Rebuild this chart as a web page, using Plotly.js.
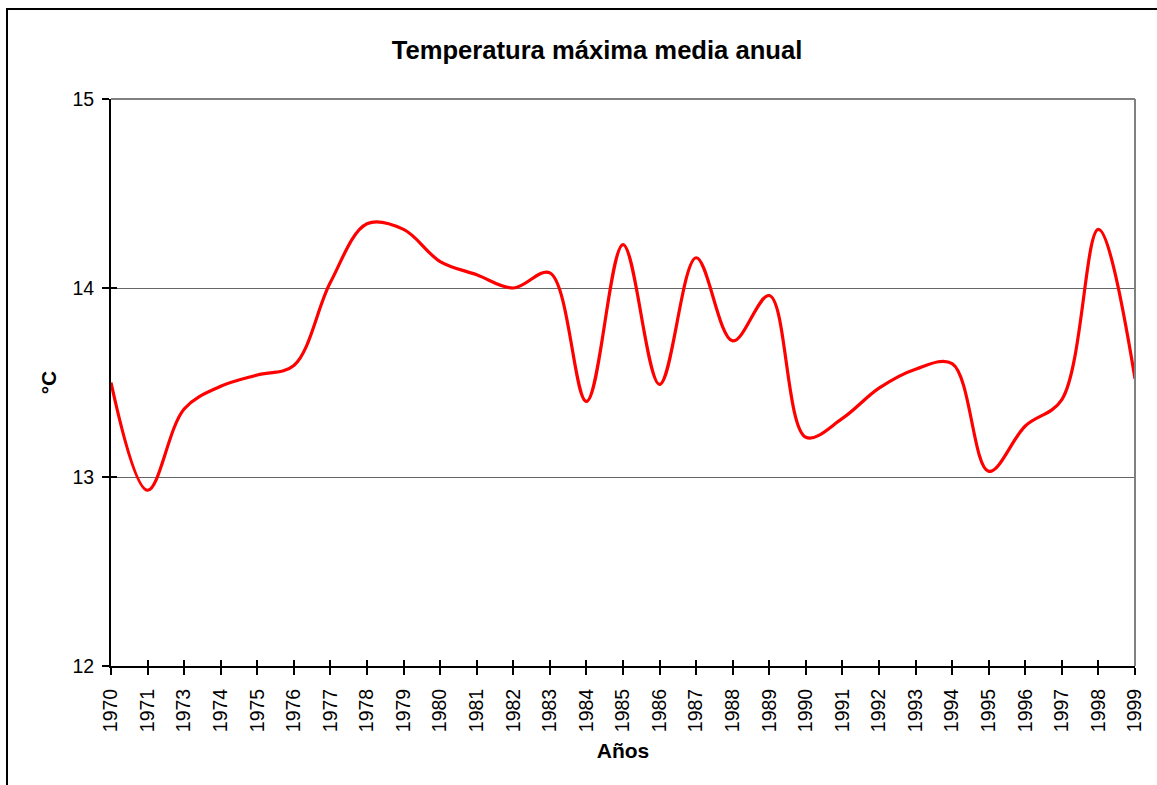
<!DOCTYPE html>
<html>
<head>
<meta charset="utf-8">
<script src="https://cdn.plot.ly/plotly-3.0.1.min.js"></script>
<style>
  html, body { margin: 0; padding: 0; overflow: hidden; background: #fff; }
  #frame { position: absolute; left: 6px; top: 8px; width: 1300px; height: 1000px; border: 2px solid #000; box-sizing: border-box; }
  #chart { position: absolute; left: 0; top: 0; width: 1157px; height: 785px; }
</style>
</head>
<body>
<div id="frame"></div>
<div id="chart"></div>
<script>
const years = ['1970','1971','1973','1974','1975','1976','1977','1978','1979','1980',
               '1981','1982','1983','1984','1985','1986','1987','1988','1989','1990',
               '1991','1992','1993','1994','1995','1996','1997','1998','1999'];
const tempMax = [13.50, 12.93, 13.36, 13.48, 13.54, 13.59, 14.03, 14.34, 14.31, 14.14,
                 14.07, 14.00, 14.08, 13.40, 14.23, 13.49, 14.16, 13.72, 13.96, 13.21,
                 13.31, 13.47, 13.57, 13.60, 13.03, 13.27, 13.41, 14.31, 13.52];
const yTicks = [12, 13, 14, 15];

const FONT = 'Liberation Sans, Arial, sans-serif';

const traces = [
  {
    x: years, y: tempMax, type: 'scatter', mode: 'lines',
    line: { color: '#FF0000', width: 3.2, shape: 'spline', smoothing: 1 },
    hoverinfo: 'x+y', showlegend: false
  },
  {
    x: years, y: tempMax, type: 'scatter', mode: 'lines',
    xaxis: 'x2', yaxis: 'y2', opacity: 0,
    line: { color: 'rgba(0,0,0,0)', width: 0 },
    hoverinfo: 'skip', showlegend: false
  }
];

const layout = {
  width: 1157, height: 785,
  paper_bgcolor: 'rgba(0,0,0,0)', plot_bgcolor: '#fff',
  margin: { l: 111, r: 22, t: 99, b: 119 },
  font: { family: FONT, color: '#000', size: 19 },
  title: {
    text: '<b>Temperatura máxima media anual</b>',
    font: { family: FONT, size: 25.6, color: '#000' },
    x: 597 / 1157, xref: 'container', xanchor: 'center',
    y: 1 - 50 / 785, yref: 'container', yanchor: 'middle'
  },
  xaxis: {
    type: 'category', categoryorder: 'array', categoryarray: years,
    range: [0, 28], tickvals: years, ticktext: years, tickangle: -90,
    ticks: 'outside', ticklen: 7, tickwidth: 2, tickcolor: '#000',
    showline: true, linecolor: '#000', linewidth: 2,
    showgrid: false, zeroline: false,
    tickfont: { family: FONT, size: 19.5, color: '#000' },
    ticklabelstandoff: 6,
    title: { text: '<b>Años</b>', font: { family: FONT, size: 21, color: '#000' }, standoff: 12 },
    fixedrange: true
  },
  yaxis: {
    range: [12, 15], tickvals: yTicks,
    ticks: 'outside', ticklen: 7, tickwidth: 2, tickcolor: '#000',
    showline: true, linecolor: '#000', linewidth: 2,
    showgrid: true, gridcolor: '#666666', gridwidth: 1,
    zeroline: false,
    tickfont: { family: FONT, size: 19.5, color: '#000' },
    ticklabelstandoff: 4,
    title: { text: '<b>°C</b>', font: { family: FONT, size: 21, color: '#000' }, standoff: 10 },
    fixedrange: true
  },
  xaxis2: {
    type: 'category', categoryorder: 'array', categoryarray: years,
    overlaying: 'x', side: 'bottom', anchor: 'y2',
    range: [0, 28], tickvals: years, showticklabels: false,
    ticks: 'inside', ticklen: 6, tickwidth: 2, tickcolor: '#000',
    showline: false, showgrid: false, zeroline: false, fixedrange: true
  },
  yaxis2: {
    overlaying: 'y', side: 'left', anchor: 'x2',
    range: [12, 15], tickvals: yTicks, showticklabels: false,
    ticks: 'inside', ticklen: 6, tickwidth: 2, tickcolor: '#000',
    showline: false, showgrid: false, zeroline: false, fixedrange: true
  },
  shapes: [
    { type: 'line', xref: 'paper', yref: 'paper', x0: 0, x1: 1, y0: 1, y1: 1,
      line: { color: '#808080', width: 2 }, layer: 'above' },
    { type: 'line', xref: 'paper', yref: 'paper', x0: 1, x1: 1, y0: 0, y1: 1,
      line: { color: '#808080', width: 2 }, layer: 'above' }
  ]
};

Plotly.newPlot('chart', traces, layout, { displayModeBar: false, staticPlot: true });
</script>
</body>
</html>
